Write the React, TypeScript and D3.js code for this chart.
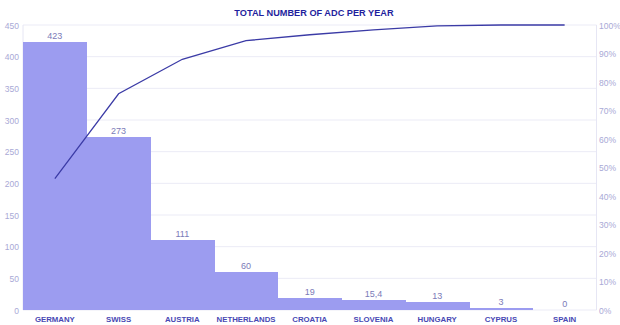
import React from "react";
import * as d3 from "d3";

const countries = ["GERMANY", "SWISS", "AUSTRIA", "NETHERLANDS", "CROATIA", "SLOVENIA", "HUNGARY", "CYPRUS", "SPAIN"];
const adcCounts = [423, 273, 111, 60, 19, 15.4, 13, 3, 0];
const valueLabels = ["423", "273", "111", "60", "19", "15,4", "13", "3", "0"];
const leftTicks = [0, 50, 100, 150, 200, 250, 300, 350, 400, 450];
const rightTicks = [0, 0.1, 0.2, 0.3, 0.4, 0.5, 0.6, 0.7, 0.8, 0.9, 1];

const W = 620;
const H = 325;
const M = { left: 23, right: 596.5, top: 25, bottom: 310 };
const FONT = "'Liberation Sans', Arial, sans-serif";

export default function App() {
  const x = d3.scaleBand<string>().domain(countries).range([M.left, M.right]).paddingInner(0).paddingOuter(0);
  const y = d3.scaleLinear().domain([0, 450]).range([M.bottom, M.top]);
  const yPct = d3.scaleLinear().domain([0, 1]).range([M.bottom, M.top]);

  const total = d3.sum(adcCounts);
  let run = 0;
  const cumulative = adcCounts.map((v) => {
    run += v;
    return run / total;
  });

  const line = d3
    .line<number>()
    .x((_, i) => (x(countries[i]) as number) + x.bandwidth() / 2)
    .y((d) => yPct(d));

  return (
    <svg width={W} height={H} style={{ position: "absolute", left: 0, top: 0, background: "#fff" }}>
      <rect x={0} y={0} width={W} height={H} fill="#fff" />
      <text x={314} y={16} textAnchor="middle" fontFamily={FONT} fontWeight="bold" fontSize={9.2} fill="#1f1f9e">
        TOTAL NUMBER OF ADC PER YEAR
      </text>

      {leftTicks.map((t) => (
        <line key={"g" + t} x1={M.left} x2={M.right} y1={y(t)} y2={y(t)} stroke="#ebebf6" strokeWidth={1} />
      ))}
      <line x1={M.left} x2={M.left} y1={M.top} y2={M.bottom} stroke="#e6e6f4" />
      <line x1={M.right} x2={M.right} y1={M.top} y2={M.bottom} stroke="#e6e6f4" />

      {leftTicks.map((t) => (
        <text key={"l" + t} x={19} y={y(t) + 3.5} textAnchor="end" fontFamily={FONT} fontSize={8.5} fill="#a9a9d6">
          {t}
        </text>
      ))}
      {rightTicks.map((t) => (
        <text key={"r" + t} x={599} y={yPct(t) + 3.5} textAnchor="start" fontFamily={FONT} fontSize={8.5} fill="#a9a9d6">
          {Math.round(t * 100) + "%"}
        </text>
      ))}

      <g shapeRendering="crispEdges">
        {adcCounts.map((v, i) => (
          <rect
            key={"b" + i}
            x={x(countries[i]) as number}
            y={y(v)}
            width={x.bandwidth() + 0.6}
            height={M.bottom - y(v)}
            fill="#9c9cf0"
          />
        ))}
      </g>

      {adcCounts.map((v, i) => (
        <text
          key={"v" + i}
          x={(x(countries[i]) as number) + x.bandwidth() / 2}
          y={y(v) - 3}
          textAnchor="middle"
          fontFamily={FONT}
          fontSize={9}
          fill="#7b7bb8"
        >
          {valueLabels[i]}
        </text>
      ))}

      <path d={line(cumulative) || ""} fill="none" stroke="#3b3ba6" strokeWidth={1.3} />

      {countries.map((c) => (
        <text
          key={"c" + c}
          x={(x(c) as number) + x.bandwidth() / 2}
          y={321.5}
          textAnchor="middle"
          fontFamily={FONT}
          fontWeight="bold"
          fontSize={7.8}
          fill="#4848b4"
        >
          {c}
        </text>
      ))}
    </svg>
  );
}
